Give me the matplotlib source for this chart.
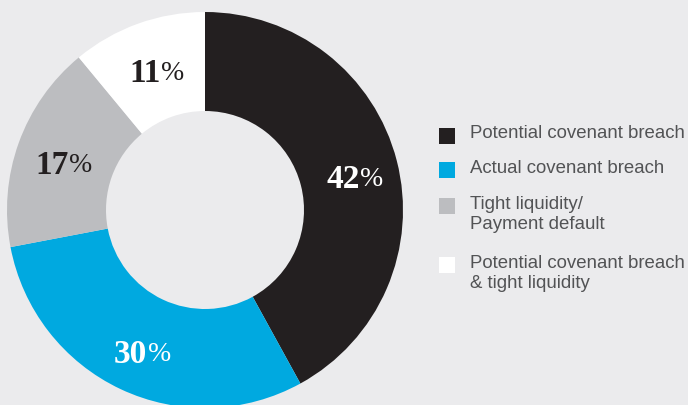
import matplotlib
matplotlib.use("Agg")
import matplotlib.pyplot as plt
import numpy as np
from matplotlib.patches import Rectangle

categories = ["Potential covenant breach", "Actual covenant breach",
              "Tight liquidity/\nPayment default",
              "Potential covenant breach\n& tight liquidity"]
values = [42, 30, 17, 11]
colors = ["#231f20", "#00a9e0", "#bcbdc0", "#ffffff"]
label_colors = ["#ffffff", "#ffffff", "#231f20", "#231f20"]

bg = "#ebebed"
W, H = 688, 405
fig = plt.figure(figsize=(W / 100, H / 100), dpi=100)
fig.patch.set_facecolor(bg)

cx, cy, R = 205, 210, 198
ax = fig.add_axes([(cx - R) / W, (H - cy - R) / H, 2 * R / W, 2 * R / H])
ax.set_facecolor(bg)
wedges, _ = ax.pie(values, colors=colors, startangle=90, counterclock=False,
                   radius=1.0, wedgeprops=dict(width=0.5, edgecolor="none"))
ax.set_xlim(-1, 1)
ax.set_ylim(-1, 1)
ax.set_aspect("equal")
ax.axis("off")
for w in wedges:
    w.set_clip_on(False)

# value labels
for w, v, lc in zip(wedges, values, label_colors):
    ang = np.deg2rad((w.theta1 + w.theta2) / 2)
    r = 0.77
    x, y = r * np.cos(ang), r * np.sin(ang)
    ax.annotate(str(v), (x, y), xytext=(5, -5), textcoords="offset points",
                ha="right", va="center", fontsize=24, fontweight="bold",
                family="Liberation Serif", color=lc, annotation_clip=False)
    ax.annotate("%", (x, y), xytext=(5.5, -5), textcoords="offset points",
                ha="left", va="center", fontsize=20, fontweight="light",
                family="Liberation Serif", color=lc, annotation_clip=False)

# legend
sq_x, sq = 439, 16
txt_x = 470
rows_y = [135.5, 170, 206, 265]
for y, c, lab in zip(rows_y, colors, categories):
    fig.patches.append(Rectangle((sq_x / W, (H - y - sq / 2) / H), sq / W, sq / H,
                                 transform=fig.transFigure, facecolor=c,
                                 edgecolor="none"))
    fig.text(txt_x / W, (H - y + 10) / H, lab, ha="left", va="top",
             fontsize=13.4, family="Liberation Sans", color="#525355",
             linespacing=1.2)

fig.savefig("out.png", dpi=100, facecolor=bg)
